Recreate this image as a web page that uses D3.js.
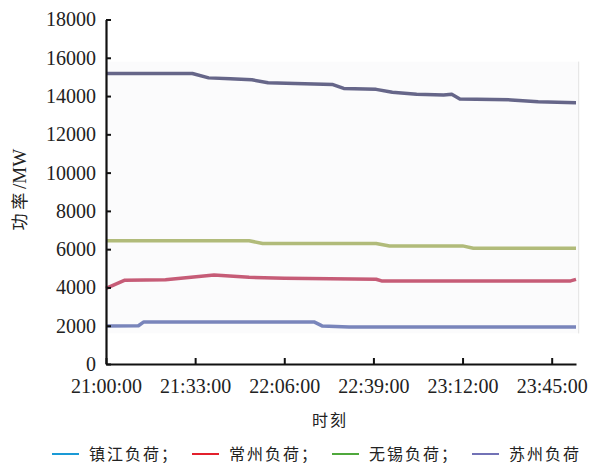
<!DOCTYPE html>
<html lang="zh">
<head>
<meta charset="UTF-8">
<title>负荷曲线</title>
<script src="https://cdn.jsdelivr.net/npm/d3@7"></script>
<style>
  body { margin: 0; background: #fff; }
  text { fill: #222; }
  .tick text { font-family: "Liberation Serif", serif; font-size: 20px; }
</style>
</head>
<body>
<script>

var width = 591,
    height = 463

var margin = {left: 106, top: 19.5, right: 15, bottom: 99}

// 时间 (HH:MM) 与负荷 (MW)
var zjTimes = ["21:00", "21:12", "21:14", "22:17", "22:20", "22:30", "23:54"]
var zjLoad  = [1980, 2000, 2200, 2200, 1990, 1930, 1930]

var czTimes = ["21:00", "21:07", "21:22", "21:40", "21:53", "22:06", "22:40", "22:42", "23:52", "23:54"]
var czLoad  = [3950, 4380, 4400, 4650, 4530, 4480, 4430, 4340, 4340, 4420]

var wxTimes = ["21:00", "21:53", "21:58", "22:40", "22:45", "23:12", "23:16", "23:54"]
var wxLoad  = [6440, 6440, 6300, 6300, 6170, 6170, 6050, 6050]

var szTimes = ["21:00", "21:32", "21:38", "21:46", "21:54", "22:00", "22:10", "22:24", "22:28", "22:40", "22:46", "22:55", "23:05", "23:08", "23:11", "23:30", "23:40", "23:54"]
var szLoad  = [15180, 15180, 14950, 14900, 14850, 14700, 14650, 14600, 14400, 14350, 14200, 14100, 14050, 14100, 13850, 13800, 13700, 13650]

var names = ["镇江负荷", "常州负荷", "无锡负荷", "苏州负荷"]
var legendColors = ["#1a9ad6", "#e3202c", "#4fa83c", "#7272b6"]
var lineColors = ["#6a78b4", "#c04a68", "#a8b46c", "#55557c"]

var xTicks = ["21:00", "21:33", "22:06", "22:39", "23:12", "23:45"]
var yTicks = [0, 2000, 4000, 6000, 8000, 10000, 12000, 14000, 16000, 18000]

var parse = d3.timeParse("%H:%M")

var series = [
  {times: zjTimes, vals: zjLoad},
  {times: czTimes, vals: czLoad},
  {times: wxTimes, vals: wxLoad},
  {times: szTimes, vals: szLoad}
].map(function(s, i) {
  return {
    color: lineColors[i],
    pts: s.times.map(function(t, j) { return [parse(t), s.vals[j]] })
  }
})

var svg = d3.select("body").append("svg")
    .attr("width", width)
    .attr("height", height)

var x = d3.scaleTime()
    .domain([parse("21:00"), parse("23:54")])
    .range([margin.left, width - margin.right])

var y = d3.scaleLinear()
    .domain([0, 18000])
    .range([height - margin.bottom, margin.top])

// 背景 (原图中的浅灰色区域)
svg.append("rect")
    .attr("x", x(parse("21:00")))
    .attr("y", y(15800))
    .attr("width", x(parse("23:55")) - x(parse("21:00")))
    .attr("height", y(1600) - y(15800))
    .attr("fill", "#fbfbfc")
svg.append("line")
    .attr("x1", x(parse("23:55"))).attr("x2", x(parse("23:55")))
    .attr("y1", y(15800)).attr("y2", y(1600))
    .attr("stroke", "#e2e2e2").attr("stroke-width", 1)

var line = d3.line()
    .x(function(d) { return x(d[0]) })
    .y(function(d) { return y(d[1]) })

svg.selectAll("path.series").data(series).enter()
    .append("path")
    .attr("class", "series")
    .attr("fill", "none")
    .attr("stroke", function(d) { return d.color })
    .attr("stroke-width", 3.5)
    .attr("stroke-linejoin", "round")
    .attr("opacity", 0.9)
    .attr("d", function(d) { return line(d.pts) })

// 坐标轴
var xAxis = svg.append("g")
    .attr("transform", "translate(0," + y(0) + ")")
    .call(d3.axisBottom(x)
        .tickValues(xTicks.map(parse))
        .tickFormat(d3.timeFormat("%H:%M:%S"))
        .tickSizeInner(-6).tickSizeOuter(0).tickPadding(15))

var yAxis = svg.append("g")
    .attr("transform", "translate(" + margin.left + ",0)")
    .call(d3.axisLeft(y)
        .tickValues(yTicks)
        .tickSizeInner(-5).tickSizeOuter(0).tickPadding(10)
        .tickFormat(d3.format("d")))

svg.selectAll(".domain").attr("stroke", "#111").attr("stroke-width", 2.2)
svg.selectAll(".tick line").attr("stroke", "#111").attr("stroke-width", 2)
svg.selectAll(".tick text").attr("fill", "#222")
xAxis.selectAll(".tick text").attr("dy", "0.71em")

// 轴标题
svg.append("text")
    .attr("transform", "translate(26," + (y(9000) - 2) + ") rotate(-90)")
    .attr("text-anchor", "middle")
    .style("font-size", "17px")
    .style("font-family", "'Noto Sans CJK SC', serif")
    .html('<tspan>功 率 </tspan><tspan style="font-family: \'Liberation Serif\', serif; font-size: 19px">/MW</tspan>')

svg.append("text")
    .attr("x", 330)
    .attr("y", 426)
    .attr("text-anchor", "middle")
    .style("font-size", "16px")
    .style("letter-spacing", "2px")
    .style("font-family", "'Noto Sans CJK SC', serif")
    .text("时刻")

// 图例
var legend = svg.append("g").attr("transform", "translate(52,454)")
var item = legend.selectAll("g").data(names).enter()
    .append("g")
    .attr("transform", function(d, i) { return "translate(" + (i * 140) + ",0)" })
item.append("line")
    .attr("x1", 0).attr("x2", 27)
    .attr("stroke", function(d, i) { return legendColors[i] })
    .attr("stroke-width", 2)
item.append("text")
    .attr("x", 37)
    .attr("y", 6)
    .style("font-size", "16px")
    .style("letter-spacing", "2px")
    .style("font-family", "'Noto Sans CJK SC', serif")
    .text(function(d, i) { return i < 3 ? d + "；" : d })

</script>
</body>
</html>
